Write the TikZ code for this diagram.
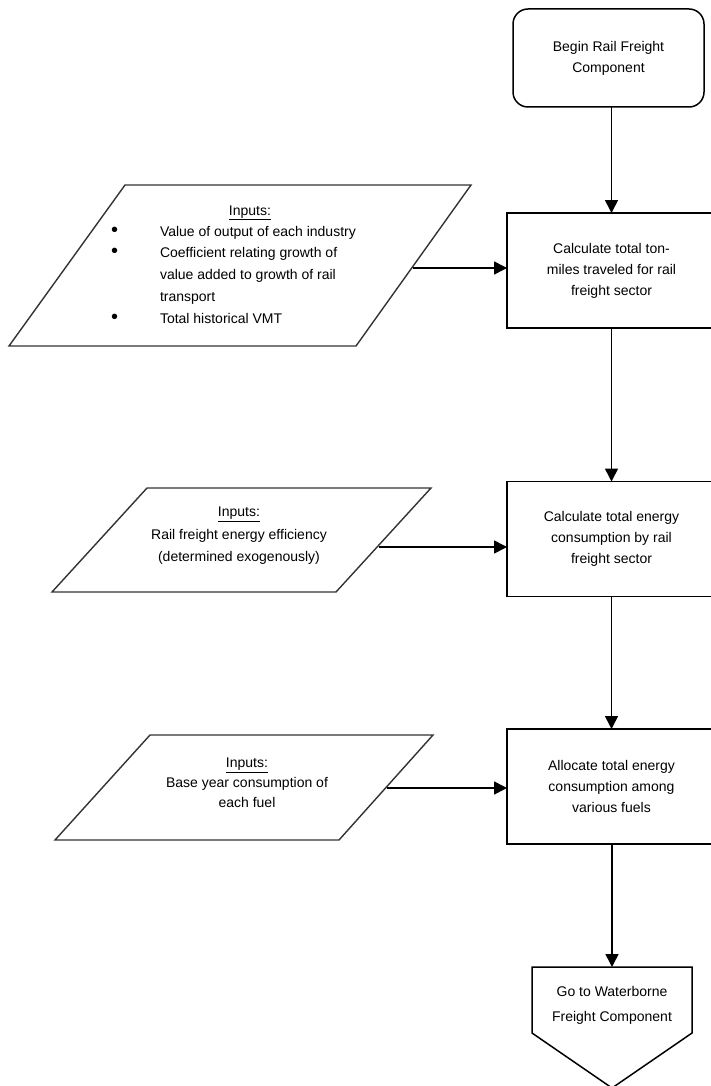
\documentclass[tikz,border=0pt]{standalone}
\usepackage{fontspec}
\setmainfont{Liberation Sans}
\usetikzlibrary{arrows.meta}
\tikzset{
  every node/.style={font=\fontsize{14}{21}\selectfont, inner sep=0pt, outer sep=0pt},
  procbox/.style={draw, line width=1.5pt, minimum width=209pt, minimum height=115pt, align=center},
  startbox/.style={draw, line width=1.5pt, rounded corners=15pt, minimum width=191pt, minimum height=98pt, align=center},
  inshape/.style={draw=black!80, line width=1.4pt, line join=miter},
  flow/.style={line width=1.6pt, -{Triangle[length=13pt,width=13pt]}},
  intext/.style={align=center}
}
\newcommand{\bigbul}{{\fontsize{20}{21.75}\selectfont\textbullet}}
\begin{document}
\begin{tikzpicture}[x=1pt,y=-1pt]
\useasboundingbox (0,0) rectangle (711,1086);

% begin
\node[startbox] (begin) at (608.5,58) {Begin Rail Freight\\Component};

% process boxes
\node[procbox] (b1) at (611.5,270.5) {Calculate total ton-\\miles traveled for rail\\freight sector};
\node[procbox] (b2) at (611.5,539) {Calculate total energy\\consumption by rail\\freight sector};
\node[procbox] (b3) at (611.5,786.5) {Allocate total energy\\consumption among\\various fuels};

% input parallelograms
\draw[inshape] (125,185) -- (471,185) -- (356,346) -- (9,346) -- cycle;
\draw[inshape] (147,488) -- (431,488) -- (336,592) -- (52,592) -- cycle;
\draw[inshape] (150,735) -- (433,735) -- (339,840) -- (55,840) -- cycle;

\node[intext] (p1title) at (250,213) {\underline{Inputs:}};
\node[anchor=base west] (p1list) at (111,236) {\fontsize{14}{21.75}\selectfont\begin{tabular}[t]{@{}p{49pt}@{}l@{}}
\bigbul & Value of output of each industry\\
\bigbul & Coefficient relating growth of\\
 & value added to growth of rail\\
 & transport\\
\bigbul & Total historical VMT
\end{tabular}};

\node[intext, font=\fontsize{14}{22.5}\selectfont] (p2text) at (239,536) {\underline{Inputs:}\\Rail freight energy efficiency\\(determined exogenously)};
\node[intext, font=\fontsize{14}{20}\selectfont] (p3text) at (247,783) {\underline{Inputs:}\\Base year consumption of\\each fuel};

% off-page connector
\draw[line width=1.5pt] (532,967) -- (692,967) -- (692,1033) -- (612,1088) -- (532,1033) -- cycle;
\coordinate (offtop) at (612,967);
\node[intext, font=\fontsize{14}{25}\selectfont] (offtext) at (612,1005) {Go to Waterborne\\Freight Component};

% connectors
\coordinate (p1r) at (413,268);
\coordinate (p2r) at (379,547);
\coordinate (p3r) at (387,788);
\draw[flow] (begin.south -| b1.north) -- (b1.north);
\draw[flow] (b1.south) -- (b2.north);
\draw[flow] (b2.south) -- (b3.north);
\draw[flow] (b3.south -| offtop) -- (offtop);
\draw[flow] (p1r) -- (b1.west |- p1r);
\draw[flow] (p2r) -- (b2.west |- p2r);
\draw[flow] (p3r) -- (b3.west |- p3r);
\end{tikzpicture}
\end{document}
